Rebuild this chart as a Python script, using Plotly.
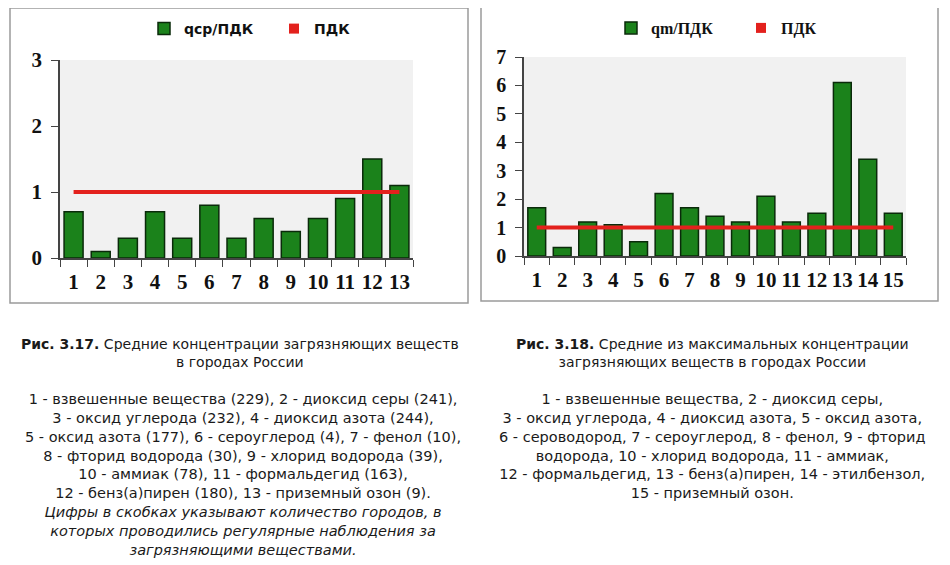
import plotly.graph_objects as go

# the page body adds an 8px margin, so the figure is drawn a bit smaller
OFF = 8
W, H = 950 - OFF, 565 - OFF

# ---- data ----
cats_avg = [str(i) for i in range(1, 14)]
avg_ratio = [0.7, 0.1, 0.3, 0.7, 0.3, 0.8, 0.3, 0.6, 0.4, 0.6, 0.9, 1.5, 1.1]

cats_max = [str(i) for i in range(1, 16)]
max_ratio = [1.7, 0.3, 1.2, 1.1, 0.5, 2.2, 1.7, 1.4, 1.2, 2.1, 1.2, 1.5, 6.1, 3.4, 1.5]

pdk_level = 1

name_avg = "qср/ПДК"
name_max = "qm/ПДК"
name_pdk = "ПДК"

caption_left = ("<b>Рис. 3.17.</b> Средние концентрации загрязняющих веществ<br>"
                "в городах России")
legend_left = ("1 - взвешенные вещества (229), 2 - диоксид серы (241),<br>"
               "3 - оксид углерода (232), 4 - диоксид азота (244),<br>"
               "5 - оксид азота (177), 6 - сероуглерод (4), 7 - фенол (10),<br>"
               "8 - фторид водорода (30), 9 - хлорид водорода (39),<br>"
               "10 - аммиак (78), 11 - формальдегид (163),<br>"
               "12 - бенз(а)пирен (180), 13 - приземный озон (9).<br>"
               "<i>Цифры в скобках указывают количество городов, в<br>"
               "которых проводились регулярные наблюдения за<br>"
               "загрязняющими веществами.</i>")

caption_right = ("<b>Рис. 3.18.</b> Средние из максимальных концентрации<br>"
                 "загрязняющих веществ в городах России")
legend_right = ("1 - взвешенные вещества, 2 - диоксид серы,<br>"
                "3 - оксид углерода, 4 - диоксид азота, 5 - оксид азота,<br>"
                "6 - сероводород, 7 - сероуглерод, 8 - фенол, 9 - фторид<br>"
                "водорода, 10 - хлорид водорода, 11 - аммиак,<br>"
                "12 - формальдегид, 13 - бенз(а)пирен, 14 - этилбензол,<br>"
                "15 - приземный озон.")

GREEN = "#1b821b"
EDGE = "#0a2a0a"
RED = "#e3211d"
SERIF = "Liberation Serif"
SANS = "DejaVu Sans"


# screen pixel -> paper fraction
def px(x):
    return (x - OFF) / W


def py(y):
    return 1 - (y - OFF) / H


fig = go.Figure()

# left chart
fig.add_trace(go.Bar(x=cats_avg, y=avg_ratio, name=name_avg,
                     marker=dict(color=GREEN, line=dict(color=EDGE, width=1.5)),
                     xaxis="x", yaxis="y", legend="legend"))
fig.add_trace(go.Scatter(x=cats_avg, y=[pdk_level] * len(cats_avg), mode="lines",
                         line=dict(color=RED, width=4), showlegend=False,
                         xaxis="x", yaxis="y"))
fig.add_trace(go.Scatter(x=[None], y=[None], mode="markers", name=name_pdk,
                         marker=dict(color=RED, symbol="square", size=10),
                         xaxis="x", yaxis="y", legend="legend"))

# right chart
fig.add_trace(go.Bar(x=cats_max, y=max_ratio, name=name_max,
                     marker=dict(color=GREEN, line=dict(color=EDGE, width=1.5)),
                     xaxis="x2", yaxis="y2", legend="legend2"))
fig.add_trace(go.Scatter(x=cats_max, y=[pdk_level] * len(cats_max), mode="lines",
                         line=dict(color=RED, width=4), showlegend=False,
                         xaxis="x2", yaxis="y2"))
fig.add_trace(go.Scatter(x=[None], y=[None], mode="markers", name=name_pdk,
                         marker=dict(color=RED, symbol="square", size=10),
                         xaxis="x2", yaxis="y2", legend="legend2"))

tick_font = dict(family=SERIF, size=21, color="#111", weight="bold")
xcommon = dict(type="category", tickson="boundaries", ticks="outside", ticklen=7,
               tickcolor="#444", showline=True, linecolor="#444", linewidth=1.5,
               showgrid=False, zeroline=False, tickangle=0, automargin=False,
               ticklabelstandoff=4, tickfont=tick_font)
ycommon = dict(ticks="outside", ticklen=7, tickcolor="#444", showline=True,
               linecolor="#444", linewidth=1.5, showgrid=False, zeroline=False,
               dtick=1, automargin=False, ticklabelstandoff=5, tickfont=tick_font)

fig.update_layout(
    width=W, height=H,
    margin=dict(l=0, r=0, t=0, b=0, autoexpand=False),
    paper_bgcolor="white",
    plot_bgcolor="#f1f1f1",
    bargap=0.3,
    xaxis=dict(xcommon, domain=[px(60), px(413)], anchor="y"),
    yaxis=dict(ycommon, domain=[py(258), py(60)], range=[0, 3], anchor="x"),
    xaxis2=dict(xcommon, domain=[px(524), px(906)], anchor="y2"),
    yaxis2=dict(ycommon, domain=[py(256), py(57)], range=[0, 7], anchor="x2",
                tickfont=dict(tick_font, size=20)),
    legend=dict(orientation="h", x=px(144), y=py(29), xanchor="left", yanchor="middle",
                entrywidth=85, itemwidth=30, bgcolor="rgba(0,0,0,0)",
                font=dict(family=SANS, size=14, color="#111", weight="bold")),
    legend2=dict(orientation="h", x=px(611), y=py(28), xanchor="left", yanchor="middle",
                 entrywidth=85, itemwidth=30, bgcolor="rgba(0,0,0,0)",
                 font=dict(family=SERIF, size=16, color="#111", weight="bold")),
    shapes=[
        dict(type="rect", xref="paper", yref="paper", x0=px(10), x1=px(468),
             y0=py(303), y1=py(8), line=dict(color="#9a9a9a", width=1.5)),
        dict(type="rect", xref="paper", yref="paper", x0=px(481), x1=px(938),
             y0=py(301), y1=py(6), line=dict(color="#9a9a9a", width=1.5)),
    ],
)

cap_font = dict(family=SANS, size=14.5, color="#1a1a1a")
fig.add_annotation(text=caption_left, x=px(240), y=py(334), xref="paper", yref="paper",
                   xanchor="center", yanchor="top", showarrow=False, align="center",
                   font=dict(cap_font, size=14))
fig.add_annotation(text=legend_left, x=px(243), y=py(389), xref="paper", yref="paper",
                   xanchor="center", yanchor="top", showarrow=False, align="center",
                   font=cap_font)
fig.add_annotation(text=caption_right, x=px(712), y=py(334), xref="paper", yref="paper",
                   xanchor="center", yanchor="top", showarrow=False, align="center",
                   font=dict(cap_font, size=14))
fig.add_annotation(text=legend_right, x=px(712), y=py(389), xref="paper", yref="paper",
                   xanchor="center", yanchor="top", showarrow=False, align="center",
                   font=cap_font)

fig.write_html("out.html")
